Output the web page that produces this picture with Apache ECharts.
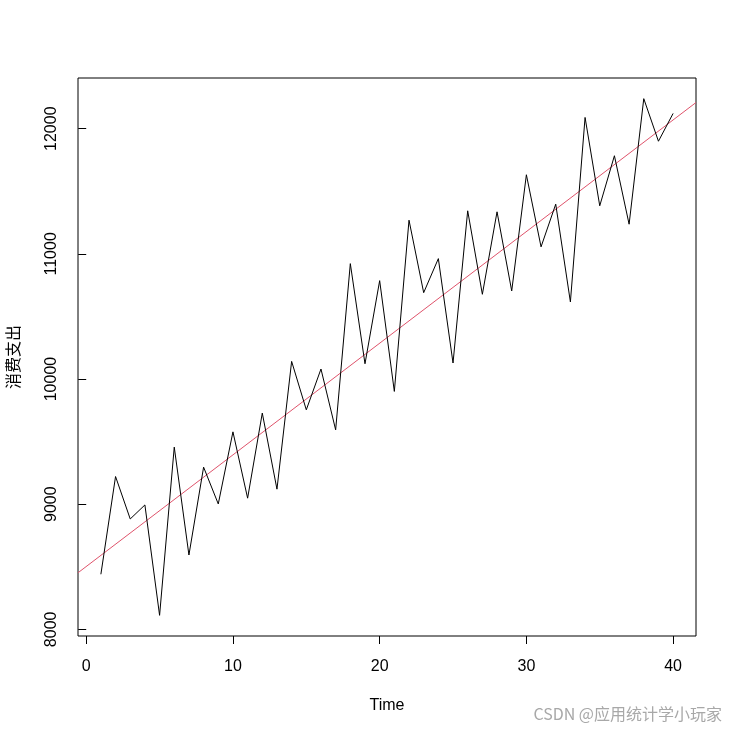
<!DOCTYPE html>
<html>
<head>
<meta charset="utf-8">
<script src="https://cdn.jsdelivr.net/npm/echarts@6/dist/echarts.min.js"></script>
<style>
html,body{margin:0;padding:0;background:#fff;}
#chart{width:736px;height:734px;}
</style>
</head>
<body>
<div id="chart"></div>
<script>
// Time index
const timeIndex = [1,2,3,4,5,6,7,8,9,10,11,12,13,14,15,16,17,18,19,20,
                   21,22,23,24,25,26,27,28,29,30,31,32,33,34,35,36,37,38,39,40];
// 消费支出 (consumption expenditure)
const spending = [8440,9221,8882,8994,8112,9456,8594,9296,9002,9578,
                  9048,9728,9120,10141,9754,10080,9594,10922,10122,10786,
                  9901,11269,10690,10962,10128,11344,10677,11336,10704,11632,
                  11056,11397,10616,12090,11384,11784,11237,12240,11900,12122];
// fitted trend line (abline)
const trendIntercept = 8502;
const trendSlope = 89.2;
// tick labels
const xTicks = [0,10,20,30,40];
const yTicks = [8000,9000,10000,11000,12000];

// R-style axis ranges: data range extended by 4% on each side
const tMin = Math.min(...timeIndex), tMax = Math.max(...timeIndex);
const vMin = Math.min(...spending), vMax = Math.max(...spending);
const xmin = tMin - 0.04*(tMax - tMin), xmax = tMax + 0.04*(tMax - tMin);
const ymin = vMin - 0.04*(vMax - vMin), ymax = vMax + 0.04*(vMax - vMin);

const seriesData = timeIndex.map((t,i)=>[t, spending[i]]);
const trendData = [[xmin, trendIntercept + trendSlope*xmin],[xmax, trendIntercept + trendSlope*xmax]];

const font = 'Liberation Sans, Arial, sans-serif';
const chart = echarts.init(document.getElementById('chart'), null, {renderer:'canvas'});
chart.setOption({
  animation:false,
  backgroundColor:'#fff',
  grid:{left:78, top:78, width:618, height:558, show:true, borderColor:'#000', borderWidth:1,
        backgroundColor:'transparent', containLabel:false, outerBoundsMode:'none'},
  xAxis:{
    type:'value', min:xmin, max:xmax,
    name:'Time', nameLocation:'middle', nameGap:62,
    nameTextStyle:{color:'#000', fontSize:16, fontFamily:font},
    axisLine:{show:false},
    splitLine:{show:false},
    axisTick:{show:true, customValues:xTicks, length:8, lineStyle:{color:'#000', width:1}},
    axisLabel:{show:true, customValues:xTicks, color:'#000', fontSize:16, fontFamily:font, margin:23,
               formatter:(v)=>String(Math.round(v))}
  },
  yAxis:{
    type:'value', min:ymin, max:ymax,
    name:'消费支出', nameLocation:'middle', nameGap:57, nameRotate:90,
    nameTextStyle:{color:'#000', fontSize:16, fontFamily:'Noto Sans CJK SC, sans-serif'},
    axisLine:{show:false},
    splitLine:{show:false},
    axisTick:{show:true, customValues:yTicks, length:8, lineStyle:{color:'#000', width:1}},
    axisLabel:{show:true, customValues:yTicks, rotate:90, color:'#000', fontSize:16, fontFamily:font, margin:18,
               formatter:(v)=>String(Math.round(v))}
  },
  series:[
    {type:'line', data:seriesData, symbol:'none', lineStyle:{color:'#000', width:1}, z:3},
    {type:'line', data:trendData, symbol:'none', lineStyle:{color:'#DF536B', width:1}, z:2}
  ],
  graphic:[
    {type:'text', right:14, top:706, style:{text:'CSDN @应用统计学小玩家', fill:'#a8a8a8', fontSize:16, fontFamily:'Noto Sans CJK SC, sans-serif'}}
  ]
});
</script>
</body>
</html>
